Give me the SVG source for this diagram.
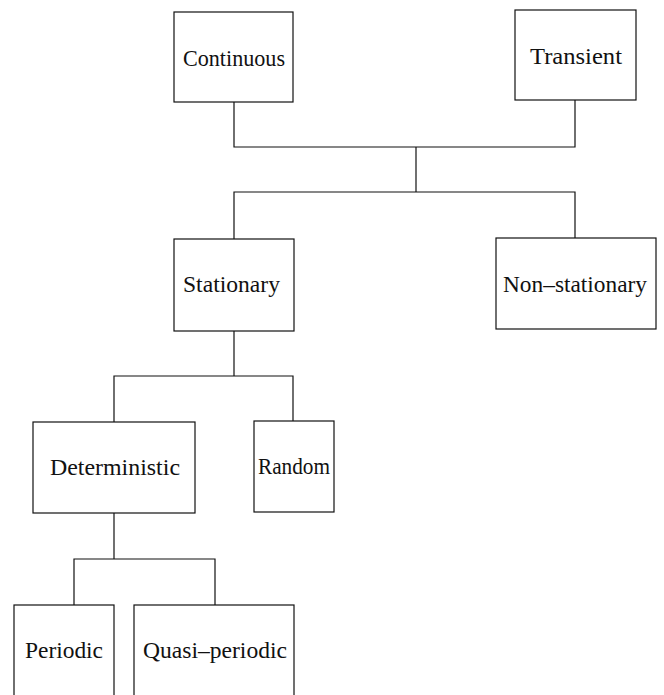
<svg xmlns="http://www.w3.org/2000/svg" width="664" height="695" viewBox="0 0 664 695">
<style>
.box{fill:#fff;stroke:#111;stroke-width:1.2}
.lbl{font-family:"Liberation Serif","Times New Roman",serif;font-size:24px;fill:#111}
.wire{fill:none;stroke:#111;stroke-width:1.2}
</style>
<rect width="664" height="695" fill="#fff"/>
<g id="connectors">
<path class="wire" d="M234,102 V147 H575 V100"/>
<path class="wire" d="M416,147 V192"/>
<path class="wire" d="M234,239 V192 H575 V238"/>
<path class="wire" d="M234,331 V376"/>
<path class="wire" d="M114,422 V376 H293 V421"/>
<path class="wire" d="M114,513 V559"/>
<path class="wire" d="M74,605 V559 H215 V605"/>
</g>
<g id="continuous"><rect class="box" x="174" y="12" width="119" height="90"/><text class="lbl" x="183" y="66" textLength="102" lengthAdjust="spacingAndGlyphs">Continuous</text></g>
<g id="transient"><rect class="box" x="515" y="10" width="121" height="90"/><text class="lbl" x="530" y="64" textLength="92" lengthAdjust="spacingAndGlyphs">Transient</text></g>
<g id="stationary"><rect class="box" x="174" y="239" width="120" height="92"/><text class="lbl" x="183" y="292" textLength="97" lengthAdjust="spacingAndGlyphs">Stationary</text></g>
<g id="non-stationary"><rect class="box" x="496" y="238" width="160" height="91"/><text class="lbl" x="503" y="292" textLength="144" lengthAdjust="spacingAndGlyphs">Non–stationary</text></g>
<g id="deterministic"><rect class="box" x="33" y="422" width="162" height="91"/><text class="lbl" x="50" y="475" textLength="130" lengthAdjust="spacingAndGlyphs">Deterministic</text></g>
<g id="random"><rect class="box" x="254" y="421" width="80" height="91"/><text class="lbl" x="258" y="474" textLength="72" lengthAdjust="spacingAndGlyphs">Random</text></g>
<g id="periodic"><rect class="box" x="14" y="605" width="100" height="100"/><text class="lbl" x="25" y="658" textLength="78" lengthAdjust="spacingAndGlyphs">Periodic</text></g>
<g id="quasi-periodic"><rect class="box" x="134" y="605" width="160" height="100"/><text class="lbl" x="143" y="658" textLength="144" lengthAdjust="spacingAndGlyphs">Quasi–periodic</text></g>
</svg>
